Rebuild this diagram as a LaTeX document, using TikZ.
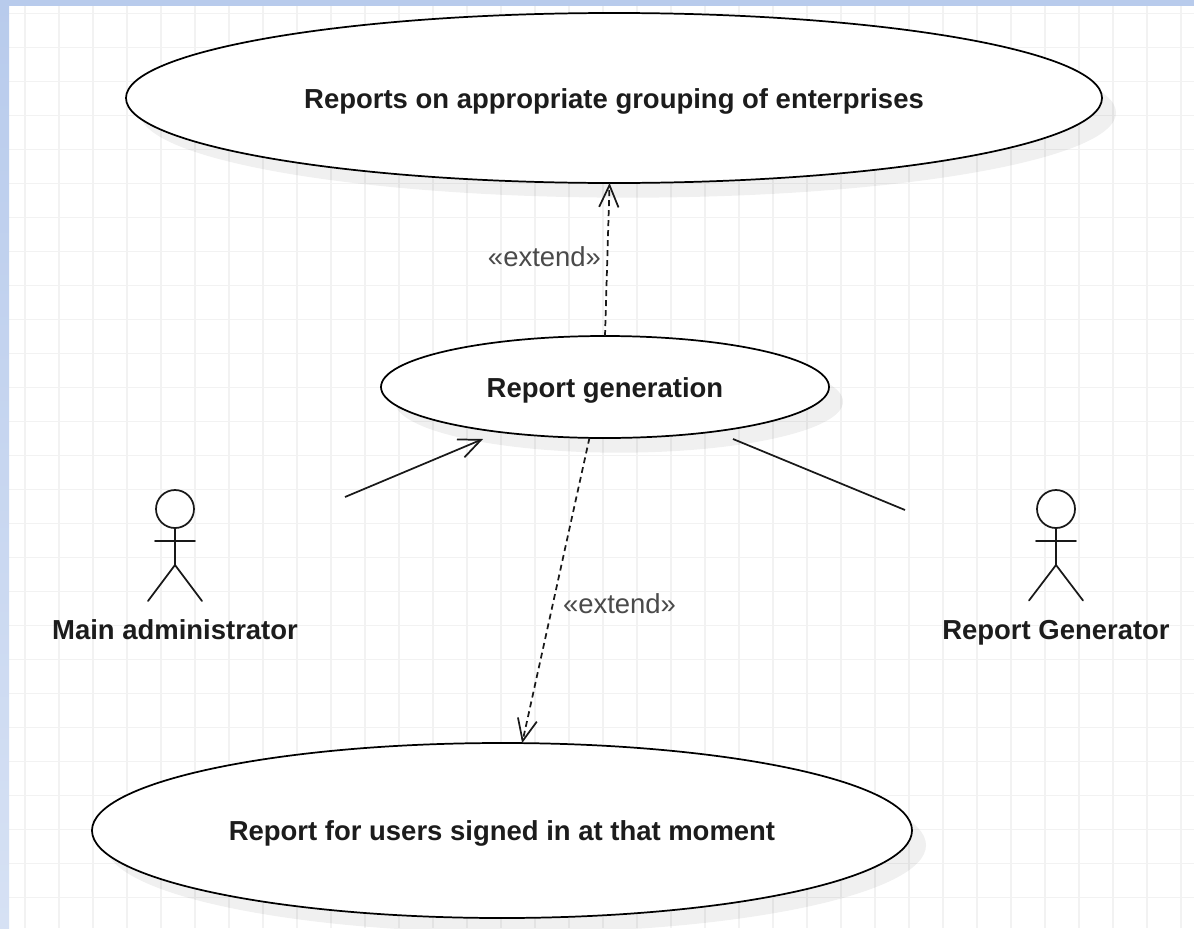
\documentclass[tikz,border=0pt]{standalone}
\usepackage{fontspec}
\setmainfont{Liberation Sans}
\usetikzlibrary{shapes.geometric,arrows.meta,shadows}
\definecolor{bandtop}{HTML}{B8CBEC}
\definecolor{bandbot}{HTML}{D6E1F4}
\definecolor{gridc}{HTML}{F2F2F2}
\definecolor{labc}{HTML}{4A4A4A}
\definecolor{txtc}{HTML}{1C1C1C}
\tikzset{
  usecase/.style={shape=ellipse,draw=black,fill=white,line width=1.3pt,inner sep=0pt,outer sep=0pt,
    font=\fontsize{20.6}{24}\selectfont\bfseries,text=txtc,text height=15pt,text depth=0pt,
    drop shadow={shadow xshift=10.5pt,shadow yshift=-11pt,fill=black,opacity=0.06}},
  actortext/.style={font=\fontsize{20.6}{24}\selectfont\bfseries,text=txtc,inner sep=0pt,anchor=base},
  extlabel/.style={font=\fontsize{20.6}{24}\selectfont,text=labc,inner sep=0pt,anchor=base},
  conn/.style={draw=black!90,line width=1.3pt},
  dashconn/.style={conn,dash pattern=on 4.4pt off 3.1pt},
  openhead/.style={-{Straight Barb[length=16.5pt,width=14.5pt,line width=1.3pt]}},
  actorline/.style={draw=black!90,line width=1.3pt,line cap=round},
  gridline/.style={draw=gridc,line width=1.1pt}
}
\begin{document}
\begin{tikzpicture}[x=0.75pt,y=-0.75pt]
\useasboundingbox (0,0) rectangle (1194,928);
\fill[white] (0,0) rectangle (1194,928);
% grid
\foreach \gx in {0,...,34} {\draw[gridline] ({25+34*\gx},6) -- ({25+34*\gx},928);}
\foreach \gy in {0,...,26} {\draw[gridline] (9,{13.3+34*\gy}) -- (1194,{13.3+34*\gy});}
% window band
\shade[top color=bandtop,bottom color=bandbot,shading angle=0] (0,0) rectangle (9,928);
\fill[bandtop] (0,0) rectangle (1194,6);
% use cases
\node[usecase,minimum width=732pt,minimum height=127.5pt] (topcase) at (614,98) {Reports on appropriate grouping of enterprises};
\node[usecase,minimum width=336pt,minimum height=76.5pt] (midcase) at (605,387) {Report generation};
\node[usecase,minimum width=615pt,minimum height=131.25pt] (botcase) at (502,830.5) {Report for users signed in at that moment};
% actors
\node[circle,draw=black!90,line width=1.3pt,fill=white,minimum size=28.5pt,inner sep=0pt] (headA) at (175,509) {};
\coordinate (armAl) at (155,541);
\coordinate (armAr) at (195,541);
\coordinate (hipA) at (175,565);
\coordinate (legAl) at (148,601);
\coordinate (legAr) at (202,601);
\draw[actorline] (headA.south) -- (hipA);
\draw[actorline] (armAl) -- (armAr);
\draw[actorline] (legAl) -- (hipA) -- (legAr);
\node[actortext] (nameA) at (175,639.5) {Main administrator};
\node[circle,draw=black!90,line width=1.3pt,fill=white,minimum size=28.5pt,inner sep=0pt] (headB) at (1056,509) {};
\coordinate (armBl) at (1036,541);
\coordinate (armBr) at (1076,541);
\coordinate (hipB) at (1056,565);
\coordinate (legBl) at (1029,600.5);
\coordinate (legBr) at (1083,600.5);
\draw[actorline] (headB.south) -- (hipB);
\draw[actorline] (armBl) -- (armBr);
\draw[actorline] (legBl) -- (hipB) -- (legBr);
\node[actortext] (nameB) at (1056,639.5) {Report Generator};
% connectors
\coordinate (adminend) at (345,497);
\coordinate (admintip) at (483,439);
\coordinate (genstart) at (733,439);
\coordinate (genend) at (905,510);
\draw[conn,openhead] (adminend) -- (admintip);
\draw[conn] (genstart) -- (genend);
\draw[dashconn,openhead] (midcase.north) -- (topcase.267.3);
\draw[dashconn,openhead] (midcase.253.6) -- (botcase.77.1);
\node[extlabel] (extA) at (544.5,266) {«extend»};
\node[extlabel] (extB) at (619.5,613) {«extend»};
\end{tikzpicture}
\end{document}
